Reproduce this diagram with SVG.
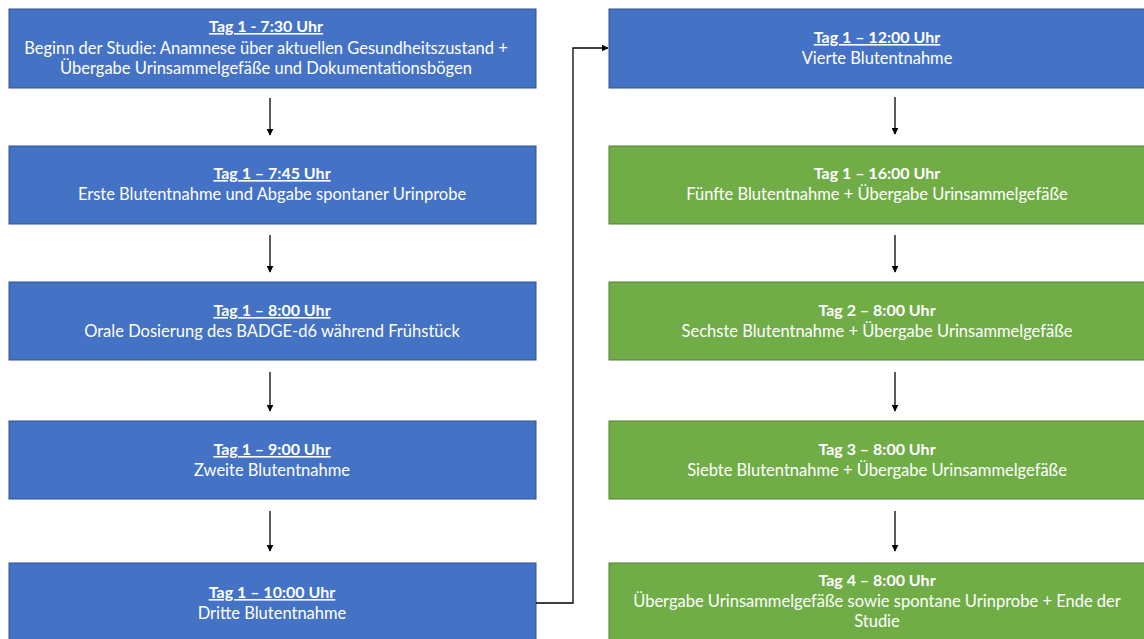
<svg xmlns="http://www.w3.org/2000/svg" width="1144" height="639" viewBox="0 0 1144 639">
<defs>
<marker id="ah" viewBox="0 0 10 10" refX="9" refY="5" markerWidth="7" markerHeight="7" markerUnits="userSpaceOnUse" orient="auto">
<path d="M0,0 L10,5 L0,10 Z" fill="#000"/>
</marker>
<style>
.blue{fill:#4472C4;stroke:#2F528F;stroke-width:1}
.green{fill:#70AD47;stroke:#507E32;stroke-width:1}
text{font-family:Lato,"Open Sans","Liberation Sans",sans-serif;font-size:16.5px;fill:#fff;text-anchor:middle}
.t{font-weight:bold;font-size:16px}
.u{text-decoration:underline}
.c{fill:none;stroke:#000;stroke-width:1.3;marker-end:url(#ah)}
</style>
</defs>
<rect width="1144" height="639" fill="#fff"/>
<g id="n1"><rect class="blue" x="9" y="9" width="527" height="79"/>
<text x="266" y="32" class="t u">Tag 1 - 7:30 Uhr</text>
<text x="266" y="54">Beginn der Studie: Anamnese über aktuellen Gesundheitszustand +</text>
<text x="266" y="74">Übergabe Urinsammelgefäße und Dokumentationsbögen</text></g>
<g id="n2"><rect class="blue" x="9" y="146" width="527" height="78"/>
<text x="272" y="179" class="t u">Tag 1 – 7:45 Uhr</text>
<text x="272" y="200">Erste Blutentnahme und Abgabe spontaner Urinprobe</text></g>
<g id="n3"><rect class="blue" x="9" y="282" width="527" height="78"/>
<text x="272" y="316" class="t u">Tag 1 – 8:00 Uhr</text>
<text x="272" y="337">Orale Dosierung des BADGE-d6 während Frühstück</text></g>
<g id="n4"><rect class="blue" x="9" y="421" width="527" height="78"/>
<text x="272" y="455" class="t u">Tag 1 – 9:00 Uhr</text>
<text x="272" y="476">Zweite Blutentnahme</text></g>
<g id="n5"><rect class="blue" x="9" y="563" width="527" height="80"/>
<text x="272" y="598" class="t u">Tag 1 – 10:00 Uhr</text>
<text x="272" y="619">Dritte Blutentnahme</text></g>
<g id="n6"><rect class="blue" x="609" y="9" width="540" height="79"/>
<text x="877" y="43" class="t u">Tag 1 – 12:00 Uhr</text>
<text x="877" y="64">Vierte Blutentnahme</text></g>
<g id="n7"><rect class="green" x="609" y="146" width="540" height="78"/>
<text x="877" y="179" class="t">Tag 1 – 16:00 Uhr</text>
<text x="877" y="200">Fünfte Blutentnahme + Übergabe Urinsammelgefäße</text></g>
<g id="n8"><rect class="green" x="609" y="282" width="540" height="78"/>
<text x="877" y="316" class="t">Tag 2 – 8:00 Uhr</text>
<text x="877" y="337">Sechste Blutentnahme + Übergabe Urinsammelgefäße</text></g>
<g id="n9"><rect class="green" x="609" y="421" width="540" height="78"/>
<text x="877" y="455" class="t">Tag 3 – 8:00 Uhr</text>
<text x="877" y="476">Siebte Blutentnahme + Übergabe Urinsammelgefäße</text></g>
<g id="n10"><rect class="green" x="609" y="563" width="540" height="80"/>
<text x="877" y="586" class="t">Tag 4 – 8:00 Uhr</text>
<text x="877" y="607">Übergabe Urinsammelgefäße sowie spontane Urinprobe + Ende der</text>
<text x="877" y="627">Studie</text></g>
<g id="connectors">
<path class="c" d="M270,98 V135"/>
<path class="c" d="M270,235 V272"/>
<path class="c" d="M270,372 V411"/>
<path class="c" d="M270,511 V551"/>
<path class="c" d="M895,97 V134"/>
<path class="c" d="M895,235 V272"/>
<path class="c" d="M895,372 V411"/>
<path class="c" d="M895,511 V551"/>
<path class="c" d="M536,603 H573 V48 H608"/>
</g>
</svg>
